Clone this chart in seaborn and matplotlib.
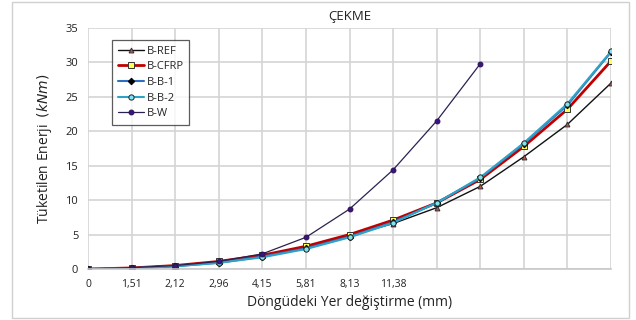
import matplotlib
matplotlib.use("Agg")
import matplotlib.pyplot as plt
import seaborn as sns
import pandas as pd
import numpy as np

positions = list(range(13))
tick_labels = ["0", "1,51", "2,12", "2,96", "4,15", "5,81", "8,13", "11,38", "", "", "", "", ""]

b_ref = [0, 0.15, 0.5, 1.0, 1.9, 3.1, 4.8, 6.6, 8.9, 12.0, 16.3, 21.0, 27.0]
b_cfrp = [0, 0.15, 0.5, 1.1, 2.0, 3.3, 5.0, 7.1, 9.6, 13.0, 17.8, 23.2, 30.2]
b_b1 = [0, 0.1, 0.4, 0.9, 1.8, 3.0, 4.7, 6.8, 9.6, 13.2, 18.2, 23.8, 31.5]
b_b2 = [0, 0.1, 0.4, 0.9, 1.7, 2.9, 4.6, 6.7, 9.6, 13.3, 18.3, 24.0, 31.6]
b_w = [0, 0.2, 0.5, 1.1, 2.2, 4.6, 8.7, 14.4, 21.5, 29.8]

series = {"B-REF": b_ref, "B-CFRP": b_cfrp, "B-B-1": b_b1, "B-B-2": b_b2, "B-W": b_w}
rows = []
for name, vals in series.items():
    for i, v in enumerate(vals):
        rows.append({"x": positions[i], "y": v, "seri": name})
df = pd.DataFrame(rows)

styles = {
    "B-REF": dict(color="#111111", lw=1.0, marker="^", mfc="#C0504D", mec="#333333", ms=3.5),
    "B-CFRP": dict(color="#C00000", lw=2.0, marker="s", mfc="#FFFF55", mec="#333333", ms=3.8),
    "B-B-1": dict(color="#2E6FC0", lw=1.5, marker="D", mfc="#000000", mec="#000000", ms=3.3),
    "B-B-2": dict(color="#2FA3C6", lw=1.5, marker="o", mfc="#7FE3F2", mec="#222222", ms=3.8),
    "B-W": dict(color="#2B2150", lw=0.9, marker="o", mfc="#3C1480", mec="#2A0F55", ms=3.5),
}

sns.set_style("white")
plt.rcParams["font.family"] = ["Open Sans", "DejaVu Sans"]

fig = plt.figure(figsize=(6.36, 3.2), dpi=100)
ax = fig.add_axes([88/636, 1-269/320, (611-88)/636, (269-28)/320])

for name in series:
    st = styles[name]
    sub = df[df["seri"] == name]
    sns.lineplot(data=sub, x="x", y="y", ax=ax, color=st["color"], linewidth=st["lw"],
                 marker=st["marker"], markerfacecolor=st["mfc"], markeredgecolor=st["mec"],
                 markersize=st["ms"], markeredgewidth=0.7, label=name, legend=False)

ax.set_xlim(0, 12)
ax.set_ylim(0, 35)
ax.set_xticks(positions)
ax.set_xticklabels(tick_labels, fontsize=7.5, color="#222222")
ax.set_yticks(range(0, 36, 5))
ax.set_yticklabels([str(v) for v in range(0, 36, 5)], fontsize=8, color="#222222")
ax.grid(True, color="#D4D4D4", linewidth=1.2)
ax.set_axisbelow(True)
for s in ["top", "right", "left"]:
    ax.spines[s].set_visible(False)
ax.spines["bottom"].set_color("#C8C8C8")
ax.spines["bottom"].set_linewidth(1.2)
ax.tick_params(axis="both", length=0, pad=7)

ax.set_xlabel("Döngüdeki Yer değiştirme (mm)", fontsize=10, color="#222222", labelpad=4)
ax.set_ylabel("Tüketilen Enerji  $(kNm)$", fontsize=10, color="#222222", labelpad=8)
ax.set_title("ÇEKME", fontsize=9.5, color="#222222", pad=6)

handles, labels = ax.get_legend_handles_labels()
leg = ax.legend(handles, labels, loc="upper left", bbox_to_anchor=(24/523, 1-12/241),
                borderaxespad=0, frameon=True, fancybox=False, fontsize=8, handlelength=2.4,
                borderpad=0.5, labelspacing=0.42, handletextpad=0.2)
leg.get_frame().set_edgecolor("#333333")
leg.get_frame().set_linewidth(0.9)

fig.patches.append(plt.Rectangle((12/636, 2/320), 617/636, 316/320, transform=fig.transFigure,
                                 fill=False, edgecolor="#D0D0D0", linewidth=1.0))

fig.savefig("out.png", dpi=100)
